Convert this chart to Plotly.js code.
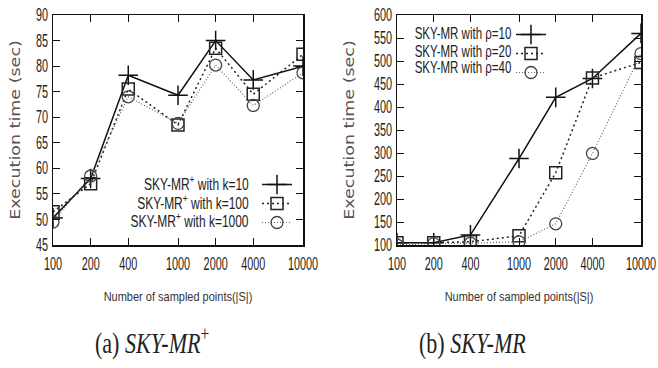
<!DOCTYPE html>
<html><head><meta charset="utf-8">
<script src="https://cdn.plot.ly/plotly-3.0.1.min.js"></script>
<style>html,body{margin:0;padding:0;background:#fff}#chart{width:658px;height:368px}</style>
</head><body><div id="chart"></div>
<script>
const sampleSizes = [100, 200, 400, 1000, 2000, 4000, 10000];
const tickLabels = ['100', '200', '400', '1000', '2000', '4000', '10000'];
const skyPlusK10 = [50.3, 58, 78.2, 74.3, 85, 77.3, 80];
const skyPlusK100 = [51.5, 57, 75.5, 68.5, 83.5, 74.5, 82.3];
const skyPlusK1000 = [49.5, 58.5, 74, 68.8, 80.2, 72.3, 78.7];
const skyP10 = [105, 105, 122, 288, 421, 462, 560];
const skyP20 = [105, 105, 107, 120, 257, 463, 497];
const skyP40 = [100, 103, 104, 107, 146, 299, 516];
const leftNames = ['SKY-MR<sup>+</sup> with k=10', 'SKY-MR<sup>+</sup> with k=100', 'SKY-MR<sup>+</sup> with k=1000'];
const rightNames = ['SKY-MR with ρ=10', 'SKY-MR with ρ=20', 'SKY-MR with ρ=40'];
const captions = ['(a) <i>SKY-MR</i><sup>+</sup>', '(b) <i>SKY-MR</i>'];
const yTitle = 'Execution time (sec)';
const xTitle = 'Number of sampled points(|S|)';

const SANS = 'Liberation Sans, Arial, sans-serif';
const tickFont = {family: SANS, size: 17.5, color: '#222'};
const styles = [
  {line: {color: '#111', width: 1.5, dash: 'solid'}, marker: {symbol: 'cross-thin-open', size: 14, line: {color: '#111', width: 1.5}}},
  {line: {color: '#222', width: 1.5, dash: '2px,3px'}, marker: {symbol: 'square-open', size: 12, color: '#222', line: {color: '#222', width: 1.5}}},
  {line: {color: '#666', width: 1.2, dash: '1px,2px'}, marker: {symbol: 'circle-open', size: 12, color: '#444', line: {color: '#444', width: 1.3}}}
];
const traces = [];
[skyPlusK10, skyPlusK100, skyPlusK1000].forEach((ys, i) => {
  traces.push({x: sampleSizes, y: ys, mode: 'lines+markers', xaxis: 'x', yaxis: 'y', name: '', legend: 'legend',
    line: styles[i].line, marker: styles[i].marker, showlegend: true});
});
[skyP10, skyP20, skyP40].forEach((ys, i) => {
  traces.push({x: sampleSizes, y: ys, mode: 'lines+markers', xaxis: 'x2', yaxis: 'y2', name: '', legend: 'legend2',
    line: styles[i].line, marker: styles[i].marker, showlegend: true});
});
const W = 658, H = 368;
const px = v => v / W, py = v => 1 - v / H;
function xa(domain, anchor) {
  return {type: 'log', domain: domain, range: [2, 4], anchor: anchor, tickvals: sampleSizes, ticktext: tickLabels,
    ticks: 'inside', ticklen: 7, tickcolor: '#111', mirror: 'allticks', showline: true, linecolor: '#111', linewidth: 1.5,
    showgrid: false, zeroline: false, tickfont: tickFont, tickangle: 0, ticklabelstandoff: 3, ticklabeloverflow: 'allow',
    title: {text: xTitle, font: {family: SANS, size: 12.5, color: '#333'}, standoff: 19}};
}
function ya(domain, anchor, range, dtick) {
  return {domain: domain, range: range, dtick: dtick, anchor: anchor, ticks: 'inside', ticklen: 7, tickcolor: '#111',
    mirror: 'allticks', showline: true, linecolor: '#111', linewidth: 1.5, showgrid: false, zeroline: false, tickfont: tickFont,
    title: {text: yTitle, font: {family: 'DejaVu Sans, sans-serif', size: 17.5, color: '#555'}, standoff: 2}};
}
const yd = [1 - 245 / H, 1 - 15 / H];
const annotations = [];
const leftRows = [183, 202, 220], rightRows = [34, 51, 68];
const legFont = {family: SANS, size: 16, color: '#222'};
leftNames.forEach((t, i) => annotations.push({xref: 'paper', yref: 'paper', x: px(251), y: py(leftRows[i]), xanchor: 'right', yanchor: 'middle', text: t, showarrow: false, font: legFont}));
rightNames.forEach((t, i) => annotations.push({xref: 'paper', yref: 'paper', x: px(513), y: py(rightRows[i]), xanchor: 'right', yanchor: 'middle', text: t, showarrow: false, font: Object.assign({}, legFont, {size: 16})}));
annotations.push({xref: 'paper', yref: 'paper', x: px(93), y: py(341), xanchor: 'left', yanchor: 'middle', text: captions[0], showarrow: false, font: {family: 'Liberation Serif, serif', size: 29, color: '#222'}});
annotations.push({xref: 'paper', yref: 'paper', x: px(417), y: py(343), xanchor: 'left', yanchor: 'middle', text: captions[1], showarrow: false, font: {family: 'Liberation Serif, serif', size: 29, color: '#222'}});
const legendBase = {bgcolor: 'rgba(0,0,0,0)', borderwidth: 0, font: {size: 12}, itemwidth: 30, tracegroupgap: 0, xanchor: 'left', yanchor: 'top'};
const layout = {
  width: W, height: H, margin: {l: 0, r: 0, t: 0, b: 0}, paper_bgcolor: '#fff', plot_bgcolor: '#fff',
  xaxis: xa([53 / W, 303 / W], 'y'), yaxis: ya(yd, 'x', [45, 90], 5),
  xaxis2: xa([397 / W, 641 / W], 'y2'), yaxis2: ya(yd, 'x2', [100, 600], 50),
  legend: Object.assign({}, legendBase, {x: px(257), y: py(170)}),
  legend2: Object.assign({}, legendBase, {x: px(511), y: py(20)}),
  annotations: annotations
};

// The reference image is horizontally compressed; narrow the text the same way.
function squish(t, s, mode, rotated) {
  if (!t || !t.textContent.trim()) return;
  const bb = t.getBBox();
  const existing = t.getAttribute('transform') || '';
  const cy = bb.y + bb.height / 2;
  if (rotated) {
    const cx = bb.x + bb.width / 2;
    t.setAttribute('transform', existing + ` translate(${cx},${cy}) scale(1,${s}) translate(${-cx},${-cy})`);
    return;
  }
  const ax = mode === 'right' ? bb.x + bb.width : mode === 'left' ? bb.x : bb.x + bb.width / 2;
  t.setAttribute('transform', existing + ` translate(${ax},${cy}) scale(${s},1) translate(${-ax},${-cy})`);
}
const gd = document.getElementById('chart');
Plotly.newPlot(gd, traces, layout, {displayModeBar: false, staticPlot: true}).then(() => {
  gd.querySelectorAll('g.ytick text, g.y2tick text').forEach(t => squish(t, 0.62, 'right'));
  gd.querySelectorAll('g.xtick text, g.x2tick text').forEach(t => squish(t, 0.62, 'center'));
  gd.querySelectorAll('text.xtitle, text.x2title').forEach(t => squish(t, 0.88, 'center'));
  gd.querySelectorAll('text.ytitle, text.y2title').forEach(t => squish(t, 0.78, 'center', true));
  gd.querySelectorAll('g.annotation').forEach((g, i) => {
    const a = layout.annotations[i];
    const s = i < 3 ? 0.75 : i < 6 ? 0.72 : 0.76;
    squish(g.querySelector('text.annotation-text'), s, a.xanchor);
  });
});
</script></body></html>
